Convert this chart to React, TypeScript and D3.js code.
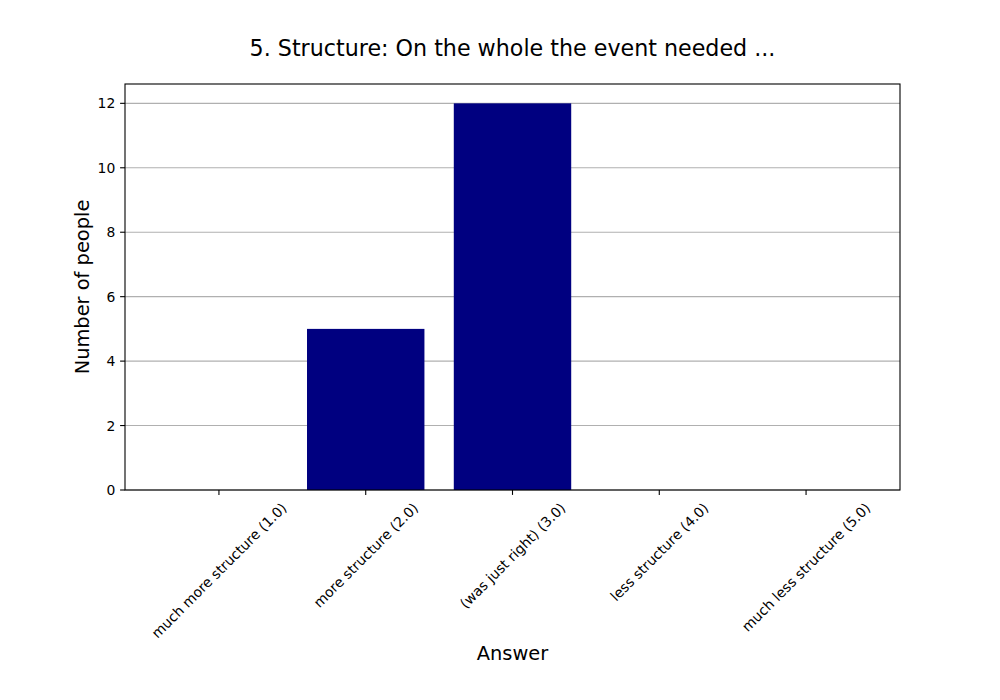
import React, { useEffect, useRef } from "react";
import * as d3 from "d3";

const categories = [
  "much more structure (1.0)",
  "more structure (2.0)",
  "(was just right) (3.0)",
  "less structure (4.0)",
  "much less structure (5.0)",
];
const counts = [0, 5, 12, 0, 0];
const yTicks = [0, 2, 4, 6, 8, 10, 12];
const title = "5. Structure: On the whole the event needed ...";
const xLabel = "Answer";
const yLabel = "Number of people";

const W = 1000;
const H = 700;
const M = { left: 125, right: 900, top: 84, bottom: 490 };
const FONT = "'DejaVu Sans', sans-serif";

export default function App() {
  const ref = useRef<SVGSVGElement | null>(null);

  useEffect(() => {
    const svg = d3.select(ref.current);
    svg.selectAll("*").remove();

    const x = d3.scaleLinear().domain([-0.64, 4.64]).range([M.left, M.right]);
    const y = d3.scaleLinear().domain([0, 12.6]).range([M.bottom, M.top]);

    svg.append("rect").attr("x", 0).attr("y", 0).attr("width", W).attr("height", H).attr("fill", "#fff");

    // grid
    svg
      .append("g")
      .selectAll("line")
      .data(yTicks)
      .join("line")
      .attr("x1", M.left)
      .attr("x2", M.right)
      .attr("y1", (d) => y(d))
      .attr("y2", (d) => y(d))
      .attr("stroke", "#b0b0b0")
      .attr("stroke-width", 1.1);

    // bars
    svg
      .append("g")
      .selectAll("rect")
      .data(counts)
      .join("rect")
      .attr("x", (_, i) => x(i - 0.4))
      .attr("width", (_, i) => x(i + 0.4) - x(i - 0.4))
      .attr("y", (d) => y(d))
      .attr("height", (d) => y(0) - y(d))
      .attr("fill", "#000080");

    // frame
    svg
      .append("rect")
      .attr("x", M.left)
      .attr("y", M.top)
      .attr("width", M.right - M.left)
      .attr("height", M.bottom - M.top)
      .attr("fill", "none")
      .attr("stroke", "#000")
      .attr("stroke-width", 1.1);

    // y ticks
    const yg = svg.append("g");
    yTicks.forEach((t) => {
      yg.append("line")
        .attr("x1", M.left - 4.9)
        .attr("x2", M.left)
        .attr("y1", y(t))
        .attr("y2", y(t))
        .attr("stroke", "#000")
        .attr("stroke-width", 1.1);
      yg.append("text")
        .attr("x", M.left - 9.7)
        .attr("y", y(t))
        .attr("dy", "0.36em")
        .attr("text-anchor", "end")
        .attr("font-family", FONT)
        .attr("font-size", 13.9)
        .text(String(t));
    });

    // x ticks
    const xg = svg.append("g");
    categories.forEach((c, i) => {
      const cx = x(i);
      xg.append("line")
        .attr("x1", cx)
        .attr("x2", cx)
        .attr("y1", M.bottom)
        .attr("y2", M.bottom + 4.9)
        .attr("stroke", "#000")
        .attr("stroke-width", 1.1);
      const t = xg
        .append("text")
        .attr("font-family", FONT)
        .attr("font-size", 13.9)
        .attr("text-anchor", "middle")
        .attr("dominant-baseline", "central")
        .text(c);
      const L = (t.node() as SVGTextElement).getComputedTextLength();
      const h = 16;
      const half = (L + h) / (2 * Math.SQRT2);
      const cy = M.bottom + 9.7 + half;
      t.attr("transform", `translate(${cx},${cy}) rotate(-45)`);
    });

    // title
    svg
      .append("text")
      .attr("x", (M.left + M.right) / 2)
      .attr("y", 56)
      .attr("text-anchor", "middle")
      .attr("font-family", FONT)
      .attr("font-size", 22.2)
      .text(title);

    // axis labels
    svg
      .append("text")
      .attr("x", (M.left + M.right) / 2)
      .attr("y", 660)
      .attr("text-anchor", "middle")
      .attr("font-family", FONT)
      .attr("font-size", 19.4)
      .text(xLabel);

    svg
      .append("text")
      .attr("transform", `translate(89,${(M.top + M.bottom) / 2}) rotate(-90)`)
      .attr("text-anchor", "middle")
      .attr("font-family", FONT)
      .attr("font-size", 19.4)
      .text(yLabel);
  }, []);

  return (
    <div style={{ position: "absolute", left: 0, top: 0 }}>
      <svg ref={ref} width={W} height={H} style={{ display: "block" }} />
    </div>
  );
}
